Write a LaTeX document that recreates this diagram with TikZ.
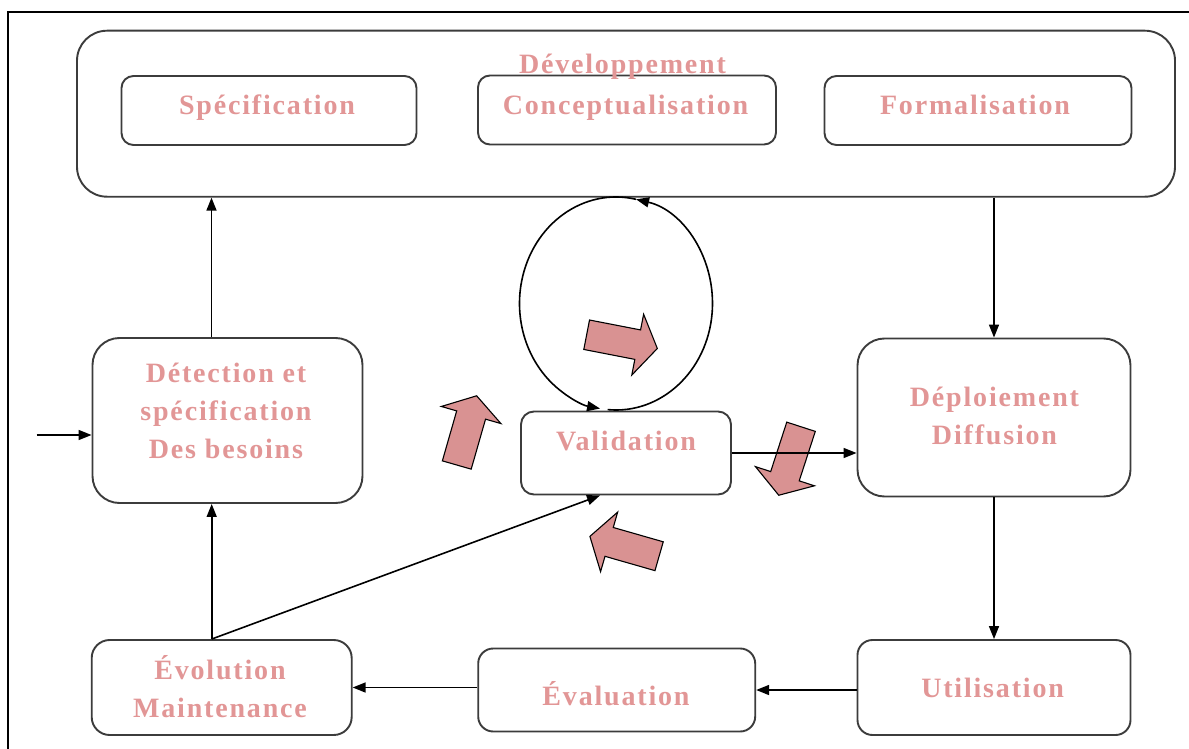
\documentclass[tikz,border=0pt]{standalone}
\usepackage{fontspec}
\newfontfamily\lblfont{Liberation Serif}[LetterSpace=6.5]
\usetikzlibrary{arrows.meta,calc}
\definecolor{txtpink}{RGB}{226,150,150}
\definecolor{arrowpink}{RGB}{217,146,146}
\definecolor{boxgray}{RGB}{60,60,60}
\begin{document}
\begin{tikzpicture}[x=1pt,y=-1pt,
  box/.style={draw=boxgray, line width=1.9pt, rounded corners=#1, inner sep=0pt, fill=white},
  lbl/.style={font=\lblfont\bfseries\fontsize{28}{38}\selectfont, text=txtpink, inner sep=0pt, anchor=base, align=center},
  link/.style={line width=1.6pt, -{Triangle[length=13pt,width=10pt]}},
  blockarrow/.style={fill=arrowpink, draw=black, line width=1.1pt, line join=miter},
  fatarrow/.pic={\draw[blockarrow] (-36,-15) -- (16,-15) -- (16,-31) -- (36,0) -- (16,31) -- (16,15) -- (-36,15) -- cycle;}
]
\useasboundingbox (0,0) rectangle (1189,749);
\fill[white] (0,0) rectangle (1189,749);

% outer frame, left and top edges
\draw[line width=1.4pt] (8,760) -- (8,12) -- (1200,12);

% development phase and its three steps
\node[box=30, minimum width=1098pt, minimum height=166pt] (dev) at (626,113.7) {};
\node[box=12, minimum width=295pt, minimum height=69pt] (spec) at (269,110.5) {};
\node[box=12, minimum width=298pt, minimum height=69pt] (conc) at (627,110) {};
\node[box=12, minimum width=307pt, minimum height=69pt] (form) at (978,110.5) {};

% life-cycle steps
\node[box=27, minimum width=270pt, minimum height=165pt] (det) at (227.5,420.5) {};
\node[box=13, minimum width=210pt, minimum height=83pt] (valid) at (626,453) {};
\node[box=27, minimum width=273pt, minimum height=158pt] (depl) at (994,417.5) {};
\node[box=15, minimum width=273pt, minimum height=95pt] (util) at (994,687.5) {};
\node[box=15, minimum width=277pt, minimum height=83pt] (eval) at (616.7,690) {};
\node[box=18, minimum width=260pt, minimum height=95pt] (evol) at (221.7,687.5) {};

% labels (multi-line labels are placed by the baseline of their last line)
\node[lbl] (devT) at (622.5,73.3) {Développement};
\node[lbl] (specT) at (267,115) {Spécification};
\node[lbl] (concT) at (625.5,115) {Conceptualisation};
\node[lbl] (formT) at (975,115) {Formalisation};
\node[lbl] (detT) at (226,458) {Détection et\\spécification\\Des besoins};
\node[lbl] (validT) at (626,450.7) {Validation};
\node[lbl] (deplT) at (994.5,444) {Déploiement\\Diffusion};
\node[lbl] (utilT) at (992.6,697.3) {Utilisation};
\node[lbl] (evalT) at (616,705) {Évaluation};
\node[lbl] (evolT) at (220,717.3) {Évolution\\Maintenance};

% block arrows around the validation step
\pic[rotate=-11] (ba1) at (622,341.6) {fatarrow};
\pic[rotate=74] (ba2) at (466.7,430.4) {fatarrow};
\pic[rotate=-108] (ba3) at (789.9,461) {fatarrow};
\pic[rotate=164] (ba4) at (624.5,546.3) {fatarrow};

% loop between development and validation
\coordinate (loopC) at (616,303.5);
\draw[link] ($(loopC)+(78:96.5pt and 106.5pt)$) arc[start angle=78, end angle=260.5, x radius=96.5pt, y radius=106.5pt];
\draw[link] ($(loopC)+(265:96.5pt and 106.5pt)$) arc[start angle=265, end angle=438, x radius=96.5pt, y radius=106.5pt];

% connectors
\coordinate (src) at (36.7,435);
\draw[link] (src) -- (src -| det.west);
\draw[link] ([xshift=-16pt]det.north) -- ([xshift=-16pt]det.north |- dev.south);
\draw[link] (dev.south -| depl.north) -- (depl.north);
\draw[link] (valid.east) -- (valid.east -| depl.west);
\draw[link] (depl.south) -- (util.north);
\draw[link] (util.west |- eval.east) -- (eval.east);
\draw[link] (evol.east -| eval.west) -- (evol.east);
\draw[link] ([xshift=-10pt]evol.north) -- ([xshift=-10pt]evol.north |- det.south);
\draw[link] ([xshift=-10pt]evol.north) -- ([xshift=-26pt]valid.south);
\end{tikzpicture}
\end{document}
